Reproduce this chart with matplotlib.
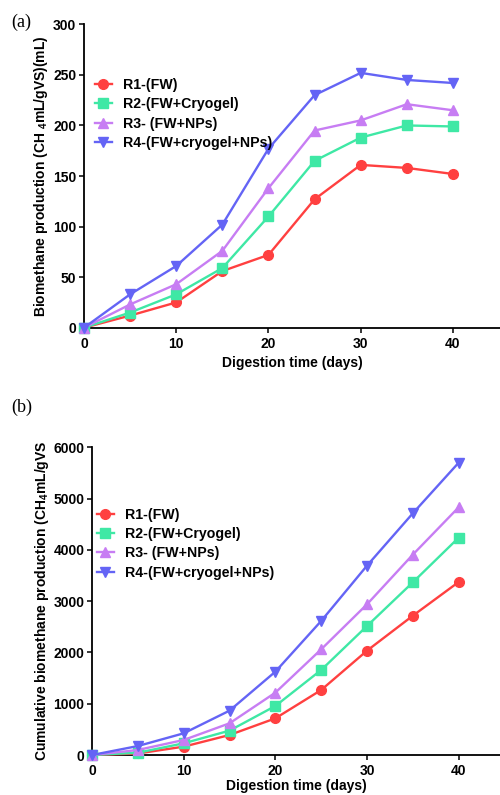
import matplotlib
matplotlib.use("Agg")
import matplotlib.pyplot as plt

plt.rcParams['font.family'] = ['Liberation Sans', 'DejaVu Sans']
plt.rcParams['font.weight'] = 'bold'
plt.rcParams['mathtext.fontset'] = 'custom'
plt.rcParams['mathtext.rm'] = 'Liberation Sans:bold'
plt.rcParams['mathtext.bf'] = 'Liberation Sans:bold'

# digestion days
days = [0, 5, 10, 15, 20, 25, 30, 35, 40]

labels = ['R1-(FW)', 'R2-(FW+Cryogel)', 'R3- (FW+NPs)', 'R4-(FW+cryogel+NPs)']
colors = ['#FF4040', '#3FE8A5', '#C77DF3', '#6464F5']
markers = ['o', 's', '^', 'v']

# (a) biomethane production per interval (mL)
prod_r1 = [0, 12, 25, 56, 72, 127, 161, 158, 152]
prod_r2 = [0, 15, 33, 59, 110, 165, 188, 200, 199]
prod_r3 = [0, 23, 43, 76, 138, 195, 205, 221, 215]
prod_r4 = [0, 33, 61, 102, 177, 230, 252, 245, 242]

# (b) cumulative biomethane production
cum_r1 = [0, 30, 163, 390, 715, 1268, 2035, 2717, 3374]
cum_r2 = [0, 45, 228, 475, 956, 1658, 2516, 3368, 4239]
cum_r3 = [0, 98, 293, 618, 1216, 2061, 2939, 3908, 4831]
cum_r4 = [0, 175, 423, 865, 1625, 2614, 3693, 4714, 5701]

fig = plt.figure(figsize=(5, 7.95), dpi=100)
ax1 = fig.add_axes([0.168, 0.5878, 0.832, 0.3816])
ax2 = fig.add_axes([0.184, 0.0503, 0.816, 0.3871])


def draw(ax, series, xmax, ymax, ystep, ylabel, leg_anchor, xpad, xlabpad):
    for ys, lab, c, m in zip(series, labels, colors, markers):
        ax.plot(days, ys, color=c, marker=m, markersize=7, lw=1.7,
                label=lab, clip_on=False, zorder=3)
    ax.set_xlim(0, xmax)
    ax.set_ylim(0, ymax)
    ax.set_xticks([0, 10, 20, 30, 40])
    ax.set_yticks(range(0, ymax + 1, ystep))
    for s in ['top', 'right']:
        ax.spines[s].set_visible(False)
    for s in ['left', 'bottom']:
        ax.spines[s].set_linewidth(1.3)
    ax.tick_params(direction='out', length=3.5, width=1.1, labelsize=10, pad=2)
    ax.tick_params(axis='x', pad=xpad)
    ax.set_xlabel('Digestion time (days)', fontsize=10, fontweight='bold', labelpad=xlabpad)
    ax.set_ylabel(ylabel, fontsize=10, fontweight='bold', labelpad=2)
    ax.legend(loc='upper left', bbox_to_anchor=leg_anchor, frameon=False,
              fontsize=10.2, borderpad=0, borderaxespad=0, handlelength=1.2,
              handletextpad=0.8, labelspacing=0.38)


draw(ax1, [prod_r1, prod_r2, prod_r3, prod_r4], 45.1, 300, 50,
     r'Biomethane production (CH $_{4}$mL/gVS)(mL)', (0.026, 0.823), 3.5, 3.5)
draw(ax2, [cum_r1, cum_r2, cum_r3, cum_r4], 44.5, 6000, 1000,
     r'Cumulative biomethane production (CH$_{4}$mL/gVS', (0.012, 0.804), 3, 0.5)

fig.text(0.022, 0.972, '(a)', fontsize=13, fontweight='normal',
         family='Liberation Serif', va='center')
fig.text(0.022, 0.487, '(b)', fontsize=13, fontweight='normal',
         family='Liberation Serif', va='center')

fig.savefig('out.png', dpi=100)
